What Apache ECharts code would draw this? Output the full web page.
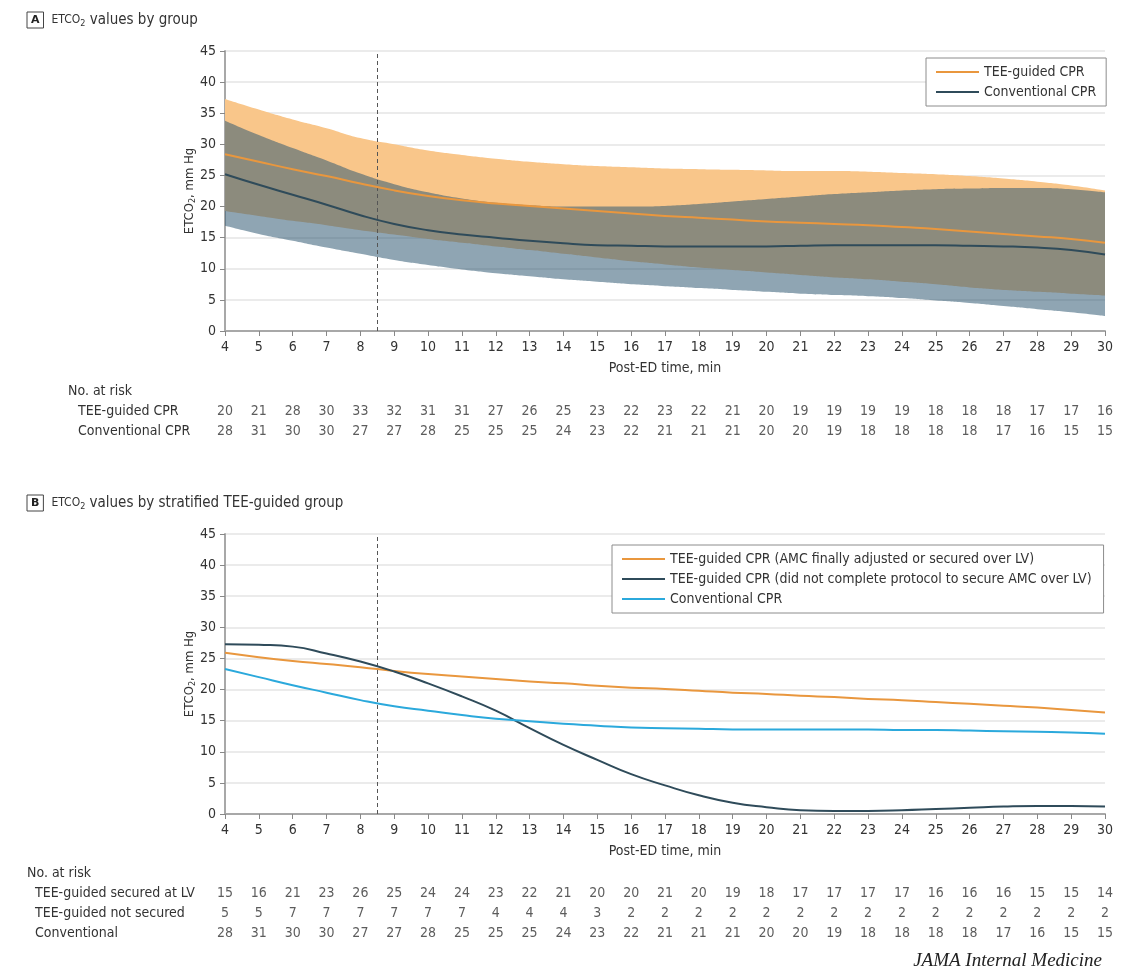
<!DOCTYPE html>
<html>
<head>
  <meta charset="utf-8" />
  <title>ETCO2 values by group</title>
  <script src="https://cdn.jsdelivr.net/npm/echarts@6/dist/echarts.min.js"></script>
  <style>
    html, body { margin: 0; padding: 0; background: #fff; }
    #chart { width: 1140px; height: 979px; }
  </style>
</head>
<body>
  <div id="chart"></div>
  <script>
    // minutes after ED arrival
    const minutes = [4,5,6,7,8,9,10,11,12,13,14,15,16,17,18,19,20,21,22,23,24,25,26,27,28,29,30];

    // panel A: means and confidence bands
    const teeMeanA = [28.4,27.2,26.0,24.9,23.7,22.6,21.7,21.0,20.5,20.1,19.7,19.3,18.9,18.5,18.2,17.9,17.6,17.4,17.2,17.0,16.7,16.4,16.0,15.6,15.2,14.8,14.2];
    const teeHiA   = [37.3,35.6,34.0,32.6,31.0,30.0,29.0,28.3,27.7,27.2,26.8,26.5,26.3,26.1,26.0,25.9,25.8,25.7,25.7,25.6,25.4,25.2,24.9,24.5,24.0,23.4,22.6];
    const teeLoA   = [19.3,18.5,17.7,17.0,16.2,15.5,14.8,14.2,13.6,13.0,12.4,11.8,11.2,10.7,10.2,9.8,9.4,9.0,8.6,8.3,7.9,7.5,7.0,6.6,6.3,6.0,5.7];
    const convMeanA = [25.2,23.5,21.9,20.3,18.6,17.2,16.2,15.5,15.0,14.5,14.1,13.8,13.7,13.6,13.6,13.6,13.6,13.7,13.8,13.8,13.8,13.8,13.7,13.6,13.4,13.0,12.3];
    const convHiA  = [33.8,31.5,29.4,27.4,25.3,23.6,22.3,21.3,20.6,20.2,20.0,20.0,20.0,20.1,20.4,20.8,21.2,21.6,22.0,22.3,22.6,22.8,22.9,23.0,23.0,22.8,22.3];
    const convLoA  = [16.9,15.6,14.5,13.4,12.4,11.4,10.6,9.9,9.3,8.8,8.3,7.9,7.5,7.2,6.9,6.6,6.3,6.0,5.8,5.6,5.3,4.9,4.5,4.0,3.5,3.0,2.4];

    // panel B: stratified means
    const securedB    = [25.9,25.2,24.6,24.1,23.6,23.0,22.5,22.1,21.7,21.3,21.0,20.6,20.3,20.1,19.8,19.5,19.3,19.0,18.8,18.5,18.3,18.0,17.7,17.4,17.1,16.7,16.3];
    const notSecuredB = [27.3,27.2,26.9,25.8,24.5,22.9,21.0,18.9,16.6,13.8,11.1,8.7,6.4,4.6,3.0,1.8,1.1,0.6,0.5,0.5,0.6,0.8,1.0,1.2,1.3,1.3,1.2];
    const convB       = [23.3,22.0,20.7,19.5,18.3,17.3,16.6,15.9,15.3,14.9,14.5,14.2,13.9,13.8,13.7,13.6,13.6,13.6,13.6,13.6,13.5,13.5,13.4,13.3,13.2,13.1,12.9];

    // numbers at risk
    const riskRowsA = ['TEE-guided CPR', 'Conventional CPR'];
    const riskTeeA  = [20,21,28,30,33,32,31,31,27,26,25,23,22,23,22,21,20,19,19,19,19,18,18,18,17,17,16];
    const riskConv  = [28,31,30,30,27,27,28,25,25,25,24,23,22,21,21,21,20,20,19,18,18,18,18,17,16,15,15];
    const riskRowsB = ['TEE-guided secured at LV', 'TEE-guided not secured', 'Conventional'];
    const riskSecured    = [15,16,21,23,26,25,24,24,23,22,21,20,20,21,20,19,18,17,17,17,17,16,16,16,15,15,14];
    const riskNotSecured = [5,5,7,7,7,7,7,7,4,4,4,3,2,2,2,2,2,2,2,2,2,2,2,2,2,2,2];

    const cutoff = 8.5;

    const FONT = '"Liberation Sans Narrow", "DejaVu Sans Condensed", "Open Sans", sans-serif';
    const ORANGE = '#e9973e';
    const ORANGE_BAND = '#f9c68a';
    const SLATE = '#2f4b5a';
    const SLATE_BAND = 'rgba(48,88,114,0.54)';
    const SKY = '#2ba9dc';

    function pairs(ys) { return minutes.map((m, i) => [m, ys[i]]); }
    function diff(hi, lo) { return hi.map((v, i) => +(v - lo[i]).toFixed(2)); }
    function riskData(rows) {
      let out = [];
      rows.forEach((vals, r) => vals.forEach((v, i) => out.push([minutes[i], r, v])));
      return out;
    }

    function valueX(gridIndex, showLabels) {
      return {
        type: 'value', gridIndex: gridIndex, min: 4, max: 30, interval: 1,
        show: showLabels,
        name: showLabels ? 'Post-ED time, min' : '',
        nameLocation: 'middle', nameGap: 30,
        nameTextStyle: { fontFamily: FONT, fontSize: 14, color: '#333' },
        axisLine: { onZero: false, lineStyle: { color: '#a8a8a8', width: 2 } },
        axisTick: { lineStyle: { color: '#888' }, length: 5 },
        axisLabel: { fontFamily: FONT, fontSize: 14, color: '#333', margin: 9 },
        splitLine: { show: false }
      };
    }
    // hidden category axis so the confidence bands can stack point by point
    function bandX(gridIndex) {
      return {
        type: 'category', gridIndex: gridIndex, data: minutes, boundaryGap: false, show: false
      };
    }
    function valueY(gridIndex) {
      return {
        type: 'value', gridIndex: gridIndex, min: 0, max: 45, interval: 5,
        name: '{a|ETCO}{s|2}{a|, mm Hg}',
        nameLocation: 'middle', nameGap: 28, nameMoveOverlap: false,
        nameTextStyle: {
          fontFamily: FONT, color: '#333',
          rich: {
            a: { fontFamily: FONT, fontSize: 13, color: '#333' },
            s: { fontFamily: FONT, fontSize: 9, color: '#333', padding: [6, 0, 0, 0] }
          }
        },
        axisLine: { show: true, lineStyle: { color: '#a8a8a8', width: 2 } },
        axisTick: { show: true, lineStyle: { color: '#888' }, length: 5 },
        axisLabel: { fontFamily: FONT, fontSize: 14, color: '#333', margin: 9 },
        splitLine: { lineStyle: { color: '#e4e4e4', width: 1.5 } }
      };
    }
    function riskY(gridIndex, rows, margin) {
      return {
        type: 'category', gridIndex: gridIndex, data: rows, inverse: true,
        axisLine: { show: false }, axisTick: { show: false },
        axisLabel: { fontFamily: FONT, fontSize: 14, color: '#333', align: 'left', margin: margin },
        splitLine: { show: false }
      };
    }
    function line(name, xi, yi, ys, color) {
      return {
        name: name, type: 'line', xAxisIndex: xi, yAxisIndex: yi, data: pairs(ys),
        smooth: true, showSymbol: false, symbol: 'none',
        lineStyle: { color: color, width: 2 }, itemStyle: { color: color }, z: 5
      };
    }
    function band(stack, xi, yi, lo, hi, fill) {
      return [
        { name: stack + '-lo', type: 'line', xAxisIndex: xi, yAxisIndex: yi, stack: stack,
          data: lo, smooth: true, symbol: 'none', lineStyle: { opacity: 0 }, silent: true },
        { name: stack + '-hi', type: 'line', xAxisIndex: xi, yAxisIndex: yi, stack: stack,
          data: diff(hi, lo), smooth: true, symbol: 'none', lineStyle: { opacity: 0 },
          areaStyle: { color: fill, opacity: 1 }, silent: true }
      ];
    }
    function cutLine() {
      return {
        symbol: 'none', silent: true, label: { show: false },
        lineStyle: { color: '#555', type: [4, 3], width: 1 },
        data: [{ xAxis: cutoff }]
      };
    }
    function riskSeries(xi, rows) {
      return {
        type: 'scatter', xAxisIndex: xi, yAxisIndex: xi, data: riskData(rows),
        symbolSize: 0.1, itemStyle: { color: 'rgba(0,0,0,0)' }, silent: true,
        label: { show: true, position: 'inside', fontFamily: FONT, fontSize: 14, color: '#333',
                 formatter: p => String(p.value[2]) }
      };
    }

    const richTitle = {
      box: { fontFamily: 'DejaVu Sans', fontSize: 11, fontWeight: 'bold', color: '#222',
             borderColor: '#444', borderWidth: 1, padding: [3, 4, 2, 4] },
      sc: { fontFamily: FONT, fontSize: 12, fontWeight: 'normal', color: '#333' },
      sub: { fontFamily: FONT, fontSize: 9, fontWeight: 'normal', color: '#333', padding: [7, 0, 0, 0] },
      t: { fontFamily: FONT, fontSize: 15, fontWeight: 'normal', color: '#333' },
      g: { width: 8 }
    };

    const chart = echarts.init(document.getElementById('chart'), null, { renderer: 'canvas' });

    const seriesA = [
      ...band('teeBand', 4, 0, teeLoA, teeHiA, ORANGE_BAND),
      ...band('convBand', 4, 0, convLoA, convHiA, SLATE_BAND),
      line('TEE-guided CPR', 0, 0, teeMeanA, ORANGE),
      Object.assign(line('Conventional CPR', 0, 0, convMeanA, SLATE), { markLine: cutLine() })
    ];
    const seriesB = [
      line('TEE-guided CPR (AMC finally adjusted or secured over LV)', 2, 2, securedB, ORANGE),
      line('TEE-guided CPR (did not complete protocol to secure AMC over LV)', 2, 2, notSecuredB, SLATE),
      Object.assign(line('Conventional CPR (B)', 2, 2, convB, SKY), { markLine: cutLine() })
    ];

    const legendBase = {
      orient: 'vertical', itemWidth: 43, itemHeight: 2, itemGap: 6, icon: 'rect',
      borderColor: '#8c8c8c', borderWidth: 1, backgroundColor: '#fff',
      textStyle: { fontFamily: FONT, fontSize: 14, color: '#333' },
      selectedMode: false, formatter: n => n.replace(' (B)', '')
    };

    chart.setOption({
      animation: false,
      title: [
        { text: '{box|A}{g|}{sc|ETCO}{sub|2}{t| values by group}', left: 27, top: 11, padding: 0,
          textStyle: { fontWeight: 'normal', rich: richTitle } },
        { text: '{box|B}{g|}{sc|ETCO}{sub|2}{t| values by stratified TEE-guided group}', left: 27, top: 494, padding: 0,
          textStyle: { fontWeight: 'normal', rich: richTitle } }
      ],
      legend: [
        Object.assign({}, legendBase, { left: 926, top: 58, padding: [7, 10, 7, 10],
          data: ['TEE-guided CPR', 'Conventional CPR'] }),
        Object.assign({}, legendBase, { left: 612, top: 545, padding: [7, 12, 7, 10],
          data: ['TEE-guided CPR (AMC finally adjusted or secured over LV)',
                 'TEE-guided CPR (did not complete protocol to secure AMC over LV)',
                 'Conventional CPR (B)'] })
      ],
      grid: [
        { left: 225, top: 51, width: 880, height: 280 },
        { left: 225, top: 401, width: 880, height: 40 },
        { left: 225, top: 534, width: 880, height: 280 },
        { left: 225, top: 883, width: 880, height: 61 }
      ],
      xAxis: [valueX(0, true), valueX(1, false), valueX(2, true), valueX(3, false), bandX(0)],
      yAxis: [
        valueY(0),
        riskY(1, riskRowsA, 147),
        valueY(2),
        riskY(3, riskRowsB, 190)
      ],
      graphic: [
        { type: 'text', left: 68, top: 384, style: { text: 'No. at risk', fontFamily: FONT, fontSize: 14, fill: '#333' } },
        { type: 'text', left: 27, top: 866, style: { text: 'No. at risk', fontFamily: FONT, fontSize: 14, fill: '#333' } },
        { type: 'text', right: 38, top: 951, style: { text: 'JAMA Internal Medicine',
            fontFamily: '"Liberation Serif", "DejaVu Serif", serif', fontStyle: 'italic', fontSize: 19, fill: '#222' } }
      ],
      series: [
        ...seriesA,
        riskSeries(1, [riskTeeA, riskConv]),
        ...seriesB,
        riskSeries(3, [riskSecured, riskNotSecured, riskConv])
      ]
    });
  </script>
</body>
</html>
